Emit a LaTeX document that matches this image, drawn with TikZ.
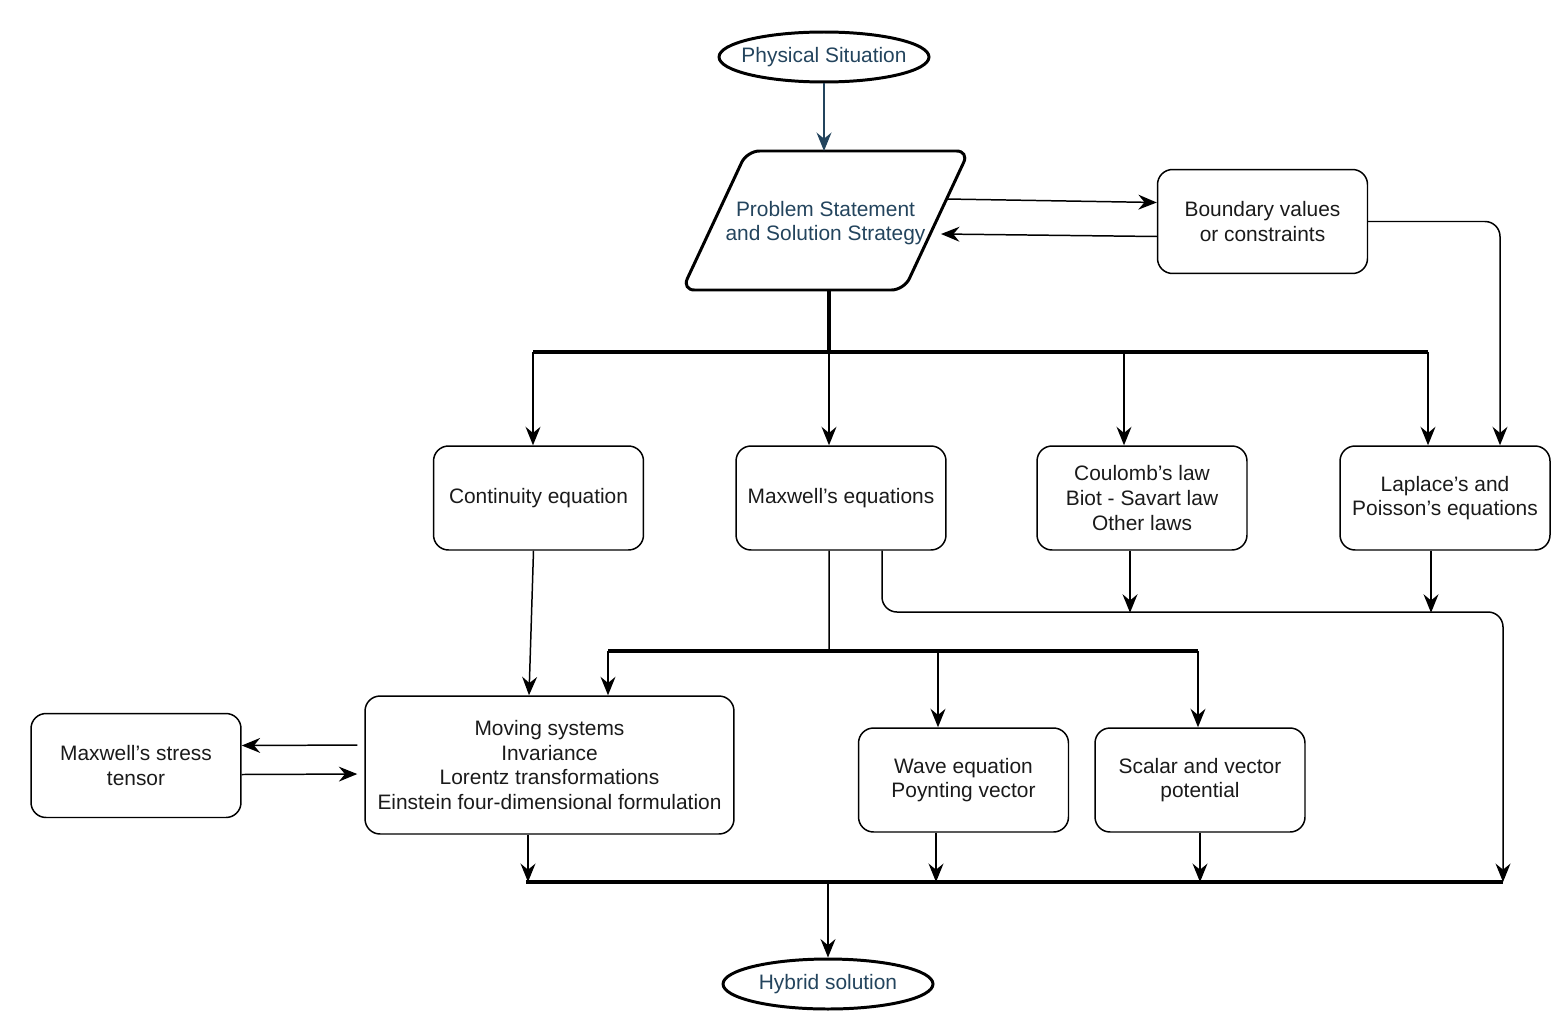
\documentclass[tikz,border=0pt]{standalone}
\usepackage{fontspec}
\setmainfont{Liberation Sans}
\usetikzlibrary{shapes.geometric,arrows.meta}
\definecolor{navy}{HTML}{23445D}
\definecolor{txtgrey}{HTML}{1A1A1A}
\tikzset{
  every node/.style={font=\fontsize{11.9}{14}\selectfont},
  box/.style={draw,rounded corners=0.3cm,minimum width=4.2cm,minimum height=2.08cm,align=center,line width=0.85pt,text=txtgrey},
  term/.style={ellipse,draw,line width=1.7pt,inner xsep=-6pt,inner ysep=0pt,minimum width=4.2cm,minimum height=1cm,text=navy},
  arr/.style={line width=0.85pt,arrows={-Stealth[length=10.5pt,width=8.5pt,inset=3.5pt]}},
  bus/.style={line width=2.2pt},
}
\begin{document}
\begin{tikzpicture}[x=0.02cm,y=-0.02cm]
\useasboundingbox (0,0) rectangle (1557,1034);

% top part
\node[term] (phys) at (824,57) {Physical Situation};
\draw[line width=1.7pt,rounded corners=0.25cm] (747,151) -- (969,151) -- (904,290) -- (682,290) -- cycle;
\node[align=center,text=navy] (prob) at (825.5,223) {Problem Statement\\and Solution Strategy};
\coordinate (ptop) at (824,151);
\coordinate (pbot) at (829,290);
\coordinate (pout) at (946,199);
\coordinate (pin) at (941,234);
\node[box] (bound) at (1262.5,221.5) {Boundary values\\or constraints};

% laws row
\node[box] (cont) at (538.5,498) {Continuity equation};
\node[box] (maxw) at (841,498) {Maxwell's equations};
\node[box] (coul) at (1142,498) {Coulomb's law\\Biot - Savart law\\Other laws};
\node[box] (lap) at (1445,498) {Laplace's and\\Poisson's equations};

% lower row
\node[box,minimum width=7.38cm,minimum height=2.76cm] (mov) at (549.5,765) {Moving systems\\Invariance\\Lorentz transformations\\Einstein four-dimensional formulation};
\node[box] (stress) at (136,765.5) {Maxwell's stress\\tensor};
\node[box] (wave) at (963.5,780) {Wave equation\\Poynting vector};
\node[box] (scal) at (1200,780) {Scalar and vector\\potential};

\node[term] (hyb) at (828,984) {Hybrid solution};

% bus points
\coordinate (b1) at (829,352);
\coordinate (bus1l) at (533,352);
\coordinate (bus1c) at (1124,352);
\coordinate (bus1r) at (1428,352);
\coordinate (b2) at (829,651);
\coordinate (bus2l) at (608,651);
\coordinate (bus2c) at (938,651);
\coordinate (bus2r) at (1198,651);
\coordinate (join) at (1503,612);
\coordinate (bus3l) at (526,882);
\coordinate (bus3r) at (1503,882);
\coordinate (b3) at (828,882);

\draw[arr,navy] (phys.south) -- (ptop);
\draw[arr] (pout) -- ([yshift=0.38cm]bound.west);
\draw[arr] ([yshift=-0.3cm]bound.west) -- (pin);
\draw[arr,rounded corners=0.3cm] (bound.east) -| ([xshift=1.1cm]lap.north);

\draw[bus] (pbot) -- (b1);
\draw[bus] (bus1l) -- (bus1r);
\draw[arr] (bus1l) -- (bus1l |- cont.north);
\draw[arr] (b1) -- (b1 |- maxw.north);
\draw[arr] (bus1c) -- (bus1c |- coul.north);
\draw[arr] (bus1r) -- (bus1r |- lap.north);

\draw[arr] ([xshift=-0.1cm]cont.south) -- ([xshift=-0.41cm]mov.north);
\draw[line width=0.85pt] ([xshift=-0.24cm]maxw.south) -- (b2);
\draw[bus] (bus2l) -- (bus2r);
\draw[arr] (bus2l) -- (bus2l |- mov.north);
\draw[arr] (bus2c) -- (bus2c |- wave.north);
\draw[arr] (bus2r) -- (bus2r |- scal.north);

\draw[arr,rounded corners=0.3cm] ([xshift=0.82cm]maxw.south) |- (join) -- (bus3r);
\draw[arr] ([xshift=-0.24cm]coul.south) -- ++(0,62);
\draw[arr] ([xshift=-0.28cm]lap.south) -- ++(0,62);

\draw[arr,shorten <=4pt] ([yshift=0.4cm]mov.west) -- ([yshift=0.4cm]stress.east);
\draw[arr,shorten >=4pt] ([yshift=-0.18cm]stress.east) -- ([yshift=-0.18cm]mov.west);

\draw[arr] ([xshift=-0.43cm]mov.south) -- ([xshift=-0.43cm]mov.south |- bus3l);
\draw[arr] ([xshift=-0.55cm]wave.south) -- ([xshift=-0.55cm]wave.south |- bus3l);
\draw[arr] (scal.south) -- (scal.south |- bus3l);
\draw[bus] (bus3l) -- (bus3r);
\draw[arr] (b3) -- (hyb.north);
\end{tikzpicture}
\end{document}
